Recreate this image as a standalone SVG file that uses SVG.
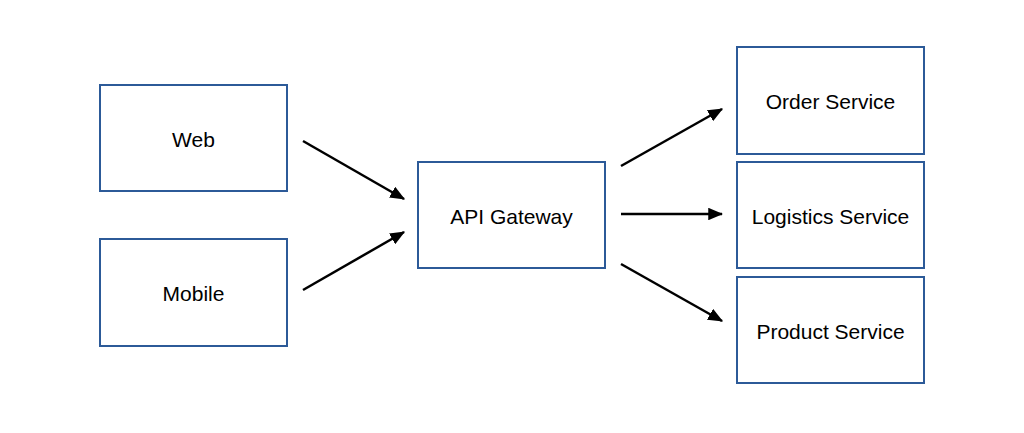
<svg xmlns="http://www.w3.org/2000/svg" width="1024" height="433" viewBox="0 0 1024 433">
<defs>
<style>
.box{fill:#fff;stroke:#2c5a98;stroke-width:2}
.lbl{font-family:"Liberation Sans",Arial,sans-serif;font-size:21px;fill:#000;text-anchor:middle;dominant-baseline:central}
.con{stroke:#000;stroke-width:2.5;fill:none;marker-end:url(#ah)}
</style>
<marker id="ah" markerWidth="6" markerHeight="5" refX="5.5" refY="2.5" orient="auto" markerUnits="strokeWidth">
<path d="M0,0 L6,2.5 L0,5 z" fill="#000"/>
</marker>
</defs>
<rect width="1024" height="433" fill="#fff"/>
<g id="web"><rect class="box" x="100" y="85" width="187" height="106"/><text class="lbl" x="193.5" y="139">Web</text></g>
<g id="mobile"><rect class="box" x="100" y="239" width="187" height="107"/><text class="lbl" x="193.5" y="293">Mobile</text></g>
<g id="gateway"><rect class="box" x="418" y="162" width="187" height="106"/><text class="lbl" x="511.5" y="216">API Gateway</text></g>
<g id="order"><rect class="box" x="737" y="47" width="187" height="107"/><text class="lbl" x="830.5" y="101">Order Service</text></g>
<g id="logistics"><rect class="box" x="737" y="162" width="187" height="106"/><text class="lbl" x="830.5" y="216">Logistics Service</text></g>
<g id="product"><rect class="box" x="737" y="277" width="187" height="106"/><text class="lbl" x="830.5" y="331">Product Service</text></g>
<g id="connectors">
<line class="con" x1="303" y1="141" x2="404" y2="199"/>
<line class="con" x1="303" y1="290" x2="404" y2="232"/>
<line class="con" x1="621" y1="166" x2="722" y2="109"/>
<line class="con" x1="621" y1="214" x2="722" y2="214"/>
<line class="con" x1="621" y1="264" x2="722" y2="321"/>
</g>
</svg>
